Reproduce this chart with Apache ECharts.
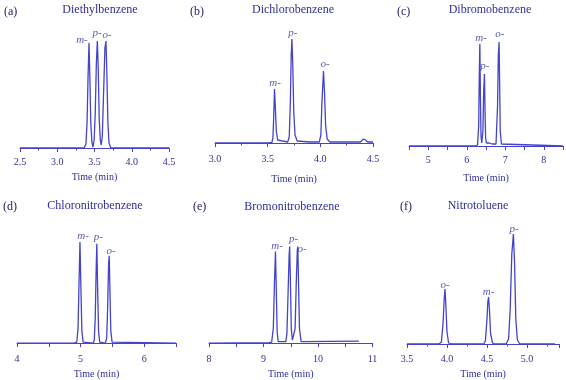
<!DOCTYPE html>
<html>
<head>
<meta charset="utf-8">
<script src="https://cdn.jsdelivr.net/npm/echarts@6/dist/echarts.min.js"></script>
<style>html,body{margin:0;padding:0;background:#fff}#c{width:566px;height:380px}</style>
</head>
<body>
<div id="c"></div>
<script>
// ---------- DATA ----------
const panelLetters = ['(a)', '(b)', '(c)', '(d)', '(e)', '(f)'];
const panelTitles = ['Diethylbenzene', 'Dichlorobenzene', 'Dibromobenzene', 'Chloronitrobenzene', 'Bromonitrobenzene', 'Nitrotoluene'];
const xAxisName = 'Time (min)';

const ticksA = ['2.5', '3.0', '3.5', '4.0', '4.5'];
const ticksB = ['3.0', '3.5', '4.0', '4.5'];
const ticksC = ['5', '6', '7', '8'];
const ticksD = ['4', '5', '6'];
const ticksE = ['8', '9', '10', '11'];
const ticksF = ['3.5', '4.0', '4.5', '5.0'];

const traceA = [[2.5,0],[3.0,0],[3.36,0],[3.385,4],[3.40,25],[3.413,70],[3.426,105],[3.438,70],[3.45,25],[3.465,6],[3.48,1],
  [3.495,8],[3.51,35],[3.525,85],[3.538,107],[3.55,80],[3.563,30],[3.578,8],[3.59,3],
  [3.605,12],[3.62,50],[3.64,100],[3.654,107],[3.666,75],[3.68,25],[3.695,5],[3.72,0],[4.3,0],[4.32,0.8],[4.34,0],[4.42,0],[4.44,1.5],[4.46,0],[4.5,0]];
const traceB = [[3.0,0],[3.5,0],[3.54,0.5],[3.55,5],[3.557,25],[3.565,54],[3.573,35],[3.582,12],[3.595,3],[3.61,1],[3.69,1],
  [3.705,6],[3.715,40],[3.723,85],[3.73,104],[3.738,80],[3.748,30],[3.76,8],[3.78,2],[3.9,1],[3.99,1],
  [4.005,8],[4.015,40],[4.03,72],[4.04,50],[4.05,18],[4.065,4],[4.09,1],[4.38,1],[4.41,4],[4.43,3],[4.45,1],[4.5,1]];
const traceC = [[4.5,0],[6.2,0],[6.28,1],[6.31,20],[6.325,70],[6.34,102],[6.355,50],[6.37,10],[6.39,3],
  [6.42,15],[6.44,55],[6.46,72],[6.475,35],[6.49,8],[6.51,3],[6.55,4],[6.58,3],[6.62,2],[6.66,2],[6.7,1],
  [6.76,2],[6.8,40],[6.82,90],[6.84,104],[6.855,60],[6.87,15],[6.9,2],[6.95,0],[8.5,0]];
const traceD = [[4.0,0],[4.9,0],[4.94,1],[4.96,15],[4.975,60],[4.99,102],[5.005,55],[5.02,12],[5.04,1],[5.2,0],
  [5.215,3],[5.23,25],[5.245,75],[5.255,100],[5.268,55],[5.282,12],[5.3,1],[5.39,0],
  [5.41,5],[5.425,35],[5.44,80],[5.45,88],[5.462,50],[5.475,12],[5.495,1],[5.52,0],[6.5,0]];
const traceE = [[8.0,0],[9.1,0.5],[9.15,1],[9.18,15],[9.2,60],[9.22,94],[9.235,55],[9.25,12],[9.27,1.5],[9.41,1.5],
  [9.43,10],[9.45,50],[9.47,90],[9.48,99],[9.495,60],[9.51,15],[9.53,3],[9.56,3],
  [9.58,15],[9.6,60],[9.62,95],[9.63,99],[9.645,55],[9.66,15],[9.69,1.5],[10.75,2]];
const traceF = [[3.5,0],[3.9,0],[3.93,2],[3.95,20],[3.965,45],[3.975,55],[3.985,40],[4.0,12],[4.02,1],[4.05,0],
  [4.46,0],[4.48,3],[4.5,25],[4.51,42],[4.52,47],[4.53,35],[4.545,10],[4.57,1],[4.6,0],
  [4.74,0],[4.77,5],[4.79,35],[4.81,90],[4.83,110],[4.845,80],[4.86,25],[4.88,4],[4.91,0],[5.35,0]];

const peakLabelsA = [[3.332,108,'m-'],[3.534,115,'p-'],[3.668,113,'o-']];
const peakLabelsB = [[3.57,60,'m-'],[3.74,110,'p-'],[4.045,79,'o-']];
const peakLabelsC = [[6.37,108,'m-'],[6.47,80,'p-'],[6.86,112,'o-']];
const peakLabelsD = [[5.04,108,'m-'],[5.28,107,'p-'],[5.48,93,'o-']];
const peakLabelsE = [[9.25,100,'m-'],[9.55,107,'p-'],[9.71,96,'o-']];
const peakLabelsF = [[3.975,59,'o-'],[4.52,52,'m-'],[4.84,115,'p-']];

// ---------- LAYOUT / STYLE ----------
const lineColor = '#4343cc';
const textColor = '#2e2e9c';
const letterColor = '#22226e';
const serif = '"Liberation Serif", "Times New Roman", serif';

const panels = [
  {trace: traceA, labels: peakLabelsA, ticks: ticksA, xmin: 2.5, xmax: 4.5, minor: true,
   grid: {left: 20, top: 32, width: 149, height: 120}, ymin: -4, ymax: 116, nameGap: 20,
   title: [100, 10], letter: [4, 12]},
  {trace: traceB, labels: peakLabelsB, ticks: ticksB, xmin: 3.0, xmax: 4.5, minor: true,
   grid: {left: 215, top: 30, width: 158, height: 119}, ymin: -6, ymax: 113, nameGap: 25,
   title: [293, 10], letter: [190, 12]},
  {trace: traceC, labels: peakLabelsC, ticks: ticksC, xmin: 4.5, xmax: 8.5, minor: false,
   grid: {left: 409, top: 30, width: 154, height: 120}, ymin: -4, ymax: 116, nameGap: 23,
   title: [490, 10], letter: [397, 12]},
  {trace: traceD, labels: peakLabelsD, ticks: ticksD, xmin: 4.0, xmax: 6.5, minor: false,
   grid: {left: 17, top: 230, width: 159, height: 120}, ymin: -6, ymax: 114, nameGap: 20,
   title: [95, 206], letter: [3, 207]},
  {trace: traceE, labels: peakLabelsE, ticks: ticksE, xmin: 8.0, xmax: 11.0, minor: false,
   grid: {left: 209, top: 232, width: 163.5, height: 120}, ymin: -6, ymax: 114, nameGap: 20,
   title: [292, 207], letter: [193, 207]},
  {trace: traceF, labels: peakLabelsF, ticks: ticksF, xmin: 3.5, xmax: 5.4, minor: true,
   grid: {left: 407, top: 229, width: 152, height: 120}, ymin: -5, ymax: 115, nameGap: 20,
   title: [478, 206], letter: [400, 207]}
];

const grids = [], xAxes = [], yAxes = [], series = [], graphics = [];
panels.forEach((p, i) => {
  grids.push(Object.assign({containLabel: false}, p.grid));
  const tickList = p.ticks;
  xAxes.push({
    type: 'value', gridIndex: i, min: p.xmin, max: p.xmax, interval: 0.5,
    axisLine: {show: true, lineStyle: {color: lineColor, width: 1}},
    axisTick: {show: true, length: 4, lineStyle: {color: lineColor}},
    minorTick: {show: p.minor, splitNumber: 2, length: 2.5, lineStyle: {color: lineColor}},
    splitLine: {show: false}, minorSplitLine: {show: false},
    axisLabel: {
      color: textColor, fontFamily: serif, fontSize: 10, margin: 5,
      showMinLabel: true, showMaxLabel: true,
      formatter: function (v) {
        const hit = tickList.find(t => Math.abs(parseFloat(t) - v) < 1e-6);
        return hit === undefined ? '' : hit;
      }
    },
    name: xAxisName, nameLocation: 'middle', nameGap: p.nameGap,
    nameTextStyle: {color: textColor, fontFamily: serif, fontSize: 10}
  });
  yAxes.push({type: 'value', gridIndex: i, min: p.ymin, max: p.ymax, show: false});
  series.push({
    type: 'line', xAxisIndex: i, yAxisIndex: i, data: p.trace, showSymbol: false, symbol: 'none',
    lineStyle: {color: lineColor, width: 1.3}, animation: false, silent: true
  });
  series.push({
    type: 'scatter', xAxisIndex: i, yAxisIndex: i, data: p.labels.map(l => [l[0], l[1], l[2]]),
    symbolSize: 1, itemStyle: {color: 'rgba(0,0,0,0)'}, animation: false, silent: true, clip: false,
    label: {show: true, position: 'inside', formatter: d => d.data[2], color: textColor,
      fontFamily: serif, fontStyle: 'italic', fontSize: 11}
  });
  graphics.push({type: 'text', x: p.title[0], y: p.title[1],
    style: {text: panelTitles[i], fill: textColor, font: '12px ' + serif, textAlign: 'center', textVerticalAlign: 'middle'}});
  graphics.push({type: 'text', x: p.letter[0], y: p.letter[1],
    style: {text: panelLetters[i], fill: letterColor, font: '12px ' + serif, textAlign: 'left', textVerticalAlign: 'middle'}});
});

const chart = echarts.init(document.getElementById('c'), null, {renderer: 'canvas'});
chart.setOption({
  animation: false,
  backgroundColor: '#ffffff',
  grid: grids, xAxis: xAxes, yAxis: yAxes, series: series, graphic: graphics
});
</script>
</body>
</html>
